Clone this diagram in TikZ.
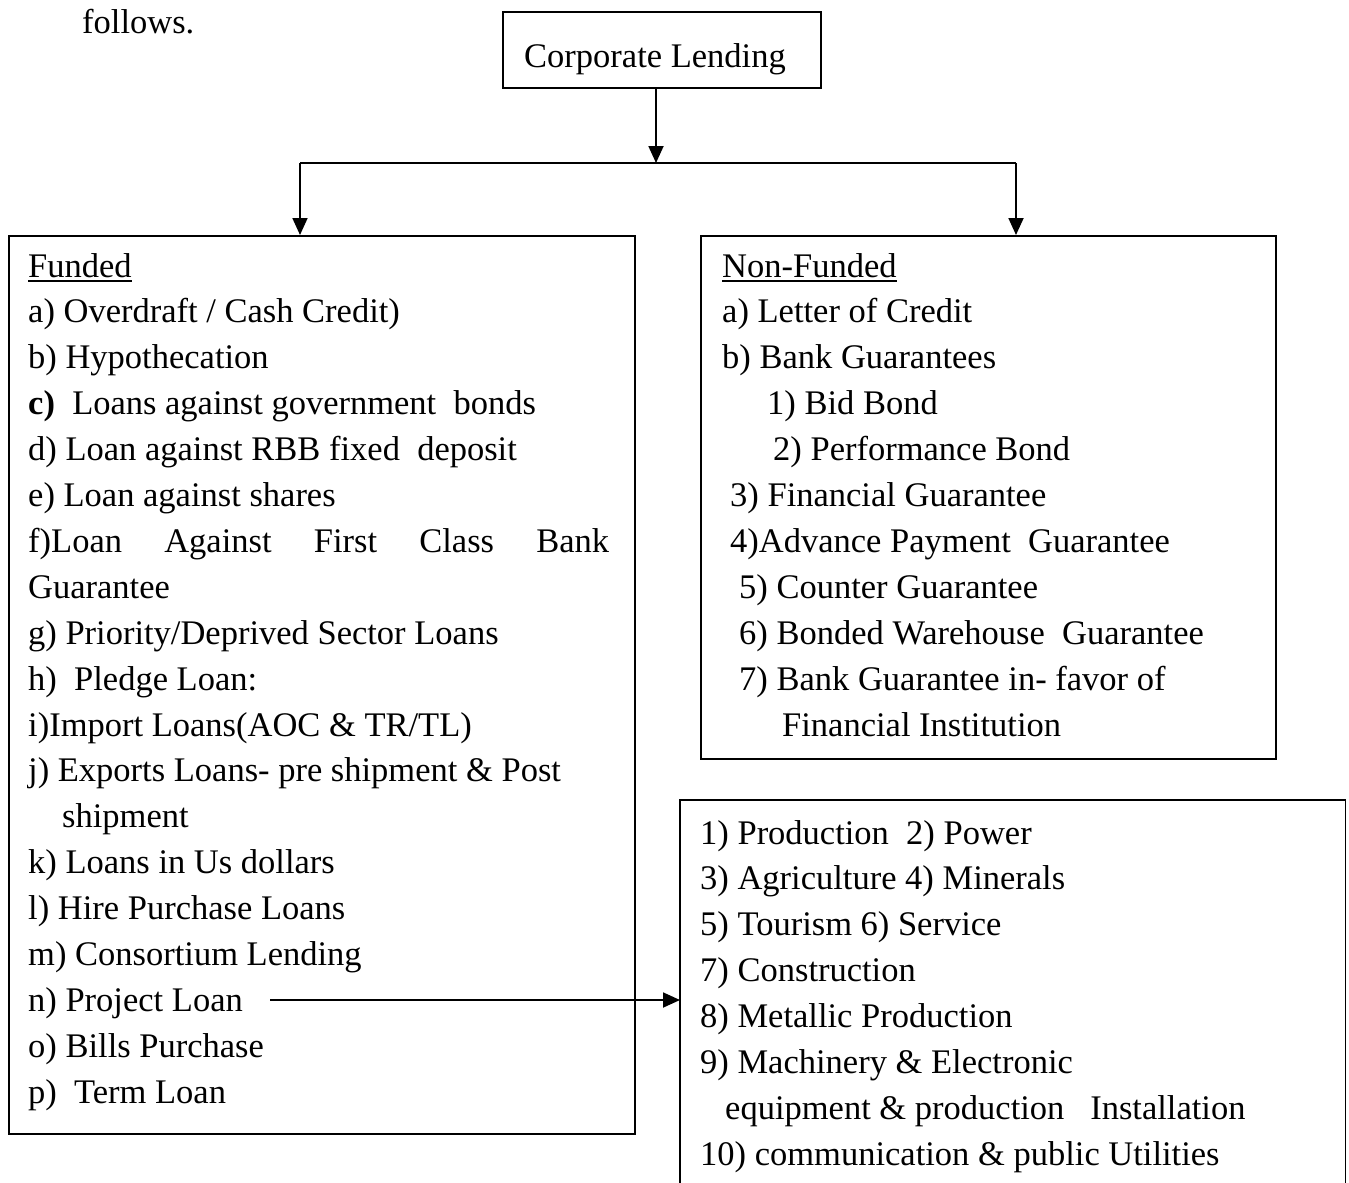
\documentclass[tikz,border=0pt]{standalone}
\usepackage{fontspec}
\setmainfont{Liberation Serif}
\usetikzlibrary{arrows.meta}
\newcommand{\myul}[1]{\setbox0\hbox{#1}\rlap{\rule[-4.5pt]{\wd0}{1.6pt}}\box0}
\begin{document}
\begin{tikzpicture}[x=1pt,y=-1pt,
  box/.style={draw, line width=1.8pt, inner sep=0pt},
  ln/.style={anchor=base west, inner sep=0pt, font=\fontsize{34.5}{40}\selectfont},
  arr/.style={-{Triangle[length=17pt,width=15pt]}, line width=1.8pt},
  plain/.style={line width=1.8pt}]
\useasboundingbox (0,0) rectangle (1349,1183);
\fill[white] (0,0) rectangle (1349,1183);

\node[ln] (fol) at (82,33) {follows.};

% boxes
\node[box, anchor=north west, minimum width=318pt, minimum height=76pt] (cl) at (502,11) {};
\node[ln] (clt) at (524,67) {Corporate Lending};
\node[box, anchor=north west, minimum width=626pt, minimum height=898pt] (funded) at (8,235) {};
\node[box, anchor=north west, minimum width=575pt, minimum height=523pt] (nonfunded) at (700,235) {};
\node[inner sep=0pt, anchor=north west, minimum width=665pt, minimum height=400pt] (prj) at (680,800) {};
\draw[plain] (prj.south west) -- (prj.north west) -- (prj.north east) -- (prj.south east);

% Funded lines
\def\fy#1{277+45.9*#1}
\node[ln] (f0) at (28,{\fy{0}}) {\myul{Funded}};
\node[ln] (f1) at (28,{\fy{1}}) {a) Overdraft / Cash Credit)};
\node[ln] (f2) at (28,{\fy{2}}) {b) Hypothecation};
\node[ln] (f3) at (28,{\fy{3}}) {\textbf{c)}\ \ Loans against government\ \ bonds};
\node[ln] (f4) at (28,{\fy{4}}) {d) Loan against RBB fixed\ \ deposit};
\node[ln] (f5) at (28,{\fy{5}}) {e) Loan against shares};
\node[ln] (f6) at (28,{\fy{6}}) {\makebox[581pt][s]{f)Loan\hfill Against\hfill First\hfill Class\hfill Bank}};
\node[ln] (f7) at (28,{\fy{7}}) {Guarantee};
\node[ln] (f8) at (28,{\fy{8}}) {g) Priority/Deprived Sector Loans};
\node[ln] (f9) at (28,{\fy{9}}) {h)\ \ Pledge Loan:};
\node[ln] (f10) at (28,{\fy{10}}) {i)Import Loans(AOC \& TR/TL)};
\node[ln] (f11) at (28,{\fy{11}}) {j) Exports Loans- pre shipment \& Post};
\node[ln] (f12) at (62,{\fy{12}}) {shipment};
\node[ln] (f13) at (28,{\fy{13}}) {k) Loans in Us dollars};
\node[ln] (f14) at (28,{\fy{14}}) {l) Hire Purchase Loans};
\node[ln] (f15) at (28,{\fy{15}}) {m) Consortium Lending};
\node[ln] (f16) at (28,{\fy{16}}) {n) Project Loan};
\node[ln] (f17) at (28,{\fy{17}}) {o) Bills Purchase};
\node[ln] (f18) at (28,{\fy{18}}) {p)\ \ Term Loan};

% Non-Funded lines
\node[ln] (n0) at (722,{\fy{0}}) {\myul{Non-Funded}};
\node[ln] (n1) at (722,{\fy{1}}) {a) Letter of Credit};
\node[ln] (n2) at (722,{\fy{2}}) {b) Bank Guarantees};
\node[ln] (n3) at (767,{\fy{3}}) {1) Bid Bond};
\node[ln] (n4) at (773,{\fy{4}}) {2) Performance Bond};
\node[ln] (n5) at (730,{\fy{5}}) {3) Financial Guarantee};
\node[ln] (n6) at (730,{\fy{6}}) {4)Advance Payment\ \ Guarantee};
\node[ln] (n7) at (739,{\fy{7}}) {5) Counter Guarantee};
\node[ln] (n8) at (739,{\fy{8}}) {6) Bonded Warehouse\ \ Guarantee};
\node[ln] (n9) at (739,{\fy{9}}) {7) Bank Guarantee in- favor of};
\node[ln] (n10) at (782,{\fy{10}}) {Financial Institution};

% Project loan sectors
\def\py#1{844+45.86*#1}
\node[ln] (p0) at (700,{\py{0}}) {1) Production\ \ 2) Power};
\node[ln] (p1) at (700,{\py{1}}) {3) Agriculture 4) Minerals};
\node[ln] (p2) at (700,{\py{2}}) {5) Tourism 6) Service};
\node[ln] (p3) at (700,{\py{3}}) {7) Construction};
\node[ln] (p4) at (700,{\py{4}}) {8) Metallic Production};
\node[ln] (p5) at (700,{\py{5}}) {9) Machinery \& Electronic};
\node[ln] (p6) at (725,{\py{6}}) {equipment \& production\ \ \ Installation};
\node[ln] (p7) at (700,{\py{7}}) {10) communication \& public Utilities};

% connectors
\coordinate (jm) at (656,163);
\coordinate (jl) at (300,163);
\coordinate (jr) at (1016,163);
\draw[arr] (jm |- cl.south) -- (jm);
\draw[plain] (jl) -- (jr);
\draw[arr] (jl) -- (jl |- funded.north);
\draw[arr] (jr) -- (jr |- nonfunded.north);
\coordinate (pa) at (270,1000);
\draw[arr] (pa) -- (pa -| prj.west);
\end{tikzpicture}
\end{document}
